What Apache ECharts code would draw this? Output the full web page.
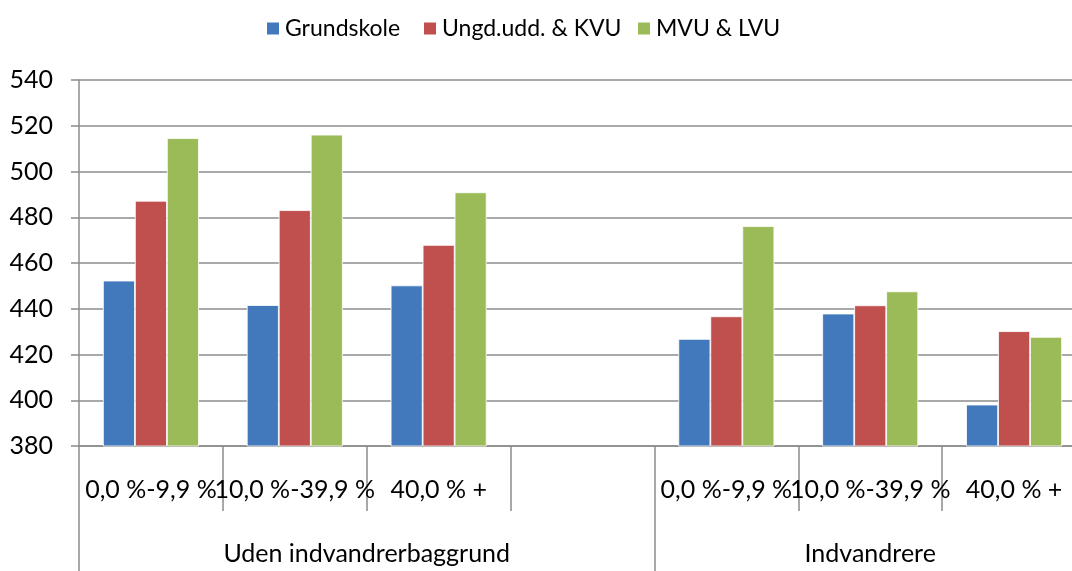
<!DOCTYPE html>
<html>
<head>
<meta charset="utf-8">
<script src="https://cdn.jsdelivr.net/npm/echarts@6/dist/echarts.min.js"></script>
<style>
  html, body { margin: 0; padding: 0; background: #fff; }
  #chart { width: 1072px; height: 571px; }
</style>
</head>
<body>
<div id="chart"></div>
<script>
// Sub-category labels (one empty slot separates the two groups)
const categories = ['0,0 %-9,9 %', '10,0 %-39,9 %', '40,0 % +', '', '0,0 %-9,9 %', '10,0 %-39,9 %', '40,0 % +'];
// Group labels and where they sit on a 0..7 category scale
const groupLabels = ['Uden indvandrerbaggrund', 'Indvandrere'];
const groupCenters = [2, 5.5];
const groupBounds = [0, 4, 7];

const seriesNames = ['Grundskole', 'Ungd.udd. & KVU', 'MVU & LVU'];
const grundskole = [452.3, 441.6, 450.2, null, 426.8, 437.9, 398.1];
const ungdKvu    = [487.2, 483.1, 467.9, null, 436.7, 441.5, 430.2];
const mvuLvu     = [514.6, 516.1, 490.9, null, 476.1, 447.6, 427.7];

const yTicks = { min: 380, max: 540, step: 20 };

const colors = ['#4279BD', '#C0504D', '#9BBB59'];
const gridColor = '#8C8C8C';
const fontFamily = 'Lato, "Open Sans", sans-serif';

// one legend entry per series, each placed on its own
const legendLeft = [265, 422, 636];

const chart = echarts.init(document.getElementById('chart'), null, { renderer: 'canvas' });

const barSeries = [grundskole, ungdKvu, mvuLvu].map((values, i) => ({
  name: seriesNames[i],
  type: 'bar',
  xAxisIndex: 0,
  data: values,
  barGap: '0%',
  barCategoryGap: '33.3%',
  itemStyle: { color: colors[i], borderColor: '#ffffff', borderWidth: 0.8 },
  emphasis: { disabled: true }
}));

const legends = seriesNames.map((name, i) => ({
  top: 17,
  left: legendLeft[i],
  padding: 0,
  itemWidth: 14,
  itemHeight: 14,
  icon: 'rect',
  selectedMode: false,
  textStyle: { fontSize: 23, color: '#000', fontFamily: fontFamily },
  data: [name]
}));

chart.setOption({
  animation: false,
  color: colors,
  textStyle: { fontFamily: fontFamily },
  legend: legends,
  grid: {
    left: 79,
    right: -14,
    top: 80,
    bottom: 125,
    containLabel: false,
    outerBoundsMode: 'none'
  },
  xAxis: [
    {
      type: 'category',
      data: categories,
      axisLine: { show: true, lineStyle: { color: gridColor, width: 1.5 } },
      axisTick: { show: true, interval: 0, length: 65, lineStyle: { color: gridColor, width: 1.5 } },
      axisLabel: { interval: 0, margin: 31, fontSize: 25, color: '#000', fontFamily: fontFamily },
      splitLine: { show: false }
    },
    {
      type: 'value',
      position: 'bottom',
      min: 0,
      max: 7,
      axisLine: { show: false },
      axisTick: { show: true, length: 125, customValues: groupBounds, lineStyle: { color: gridColor, width: 1.5 } },
      axisLabel: {
        margin: 95,
        fontSize: 25,
        color: '#000',
        fontFamily: fontFamily,
        customValues: groupCenters,
        formatter: function (v) {
          const k = groupCenters.indexOf(v);
          return k >= 0 ? groupLabels[k] : '';
        }
      },
      splitLine: { show: false }
    }
  ],
  yAxis: {
    type: 'value',
    min: yTicks.min,
    max: yTicks.max,
    interval: yTicks.step,
    axisLine: { show: true, lineStyle: { color: gridColor, width: 1.5 } },
    axisTick: { show: true, length: 8, lineStyle: { color: gridColor, width: 1.5 } },
    axisLabel: { margin: 26, fontSize: 25, color: '#000', fontFamily: fontFamily },
    splitLine: { show: true, lineStyle: { color: gridColor, width: 1.5 } }
  },
  series: barSeries
});
</script>
</body>
</html>
